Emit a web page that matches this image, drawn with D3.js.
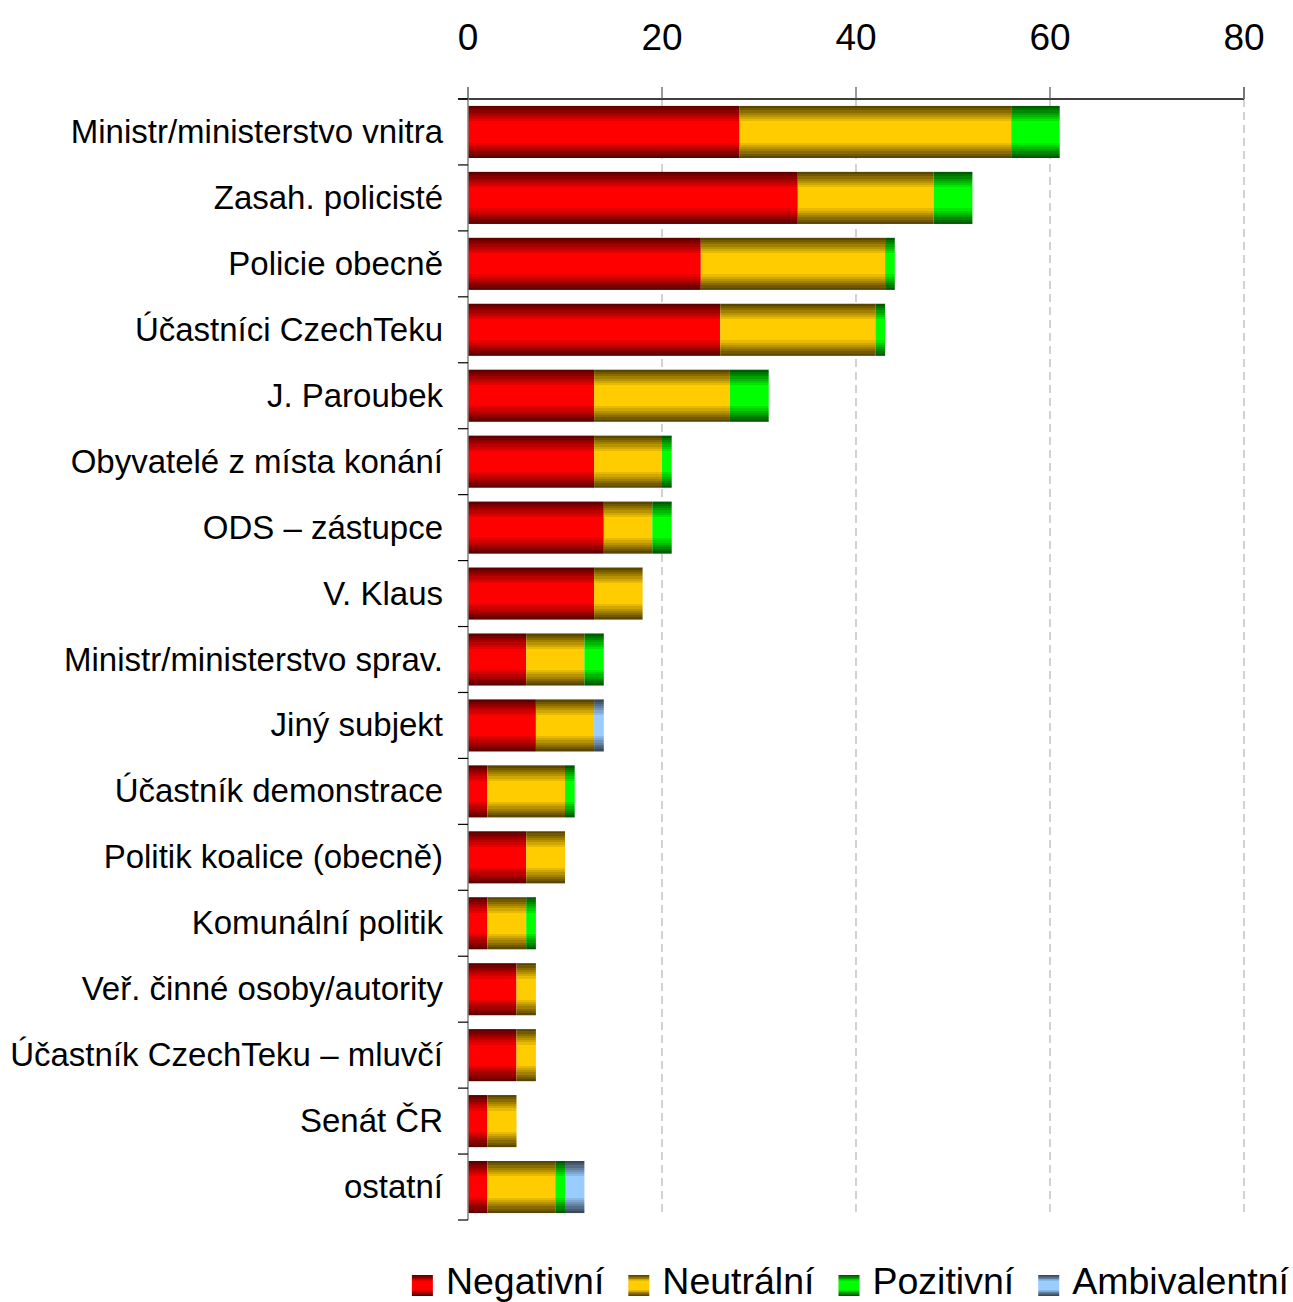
<!DOCTYPE html>
<html>
<head>
<meta charset="utf-8">
<script src="https://cdn.jsdelivr.net/npm/d3@7"></script>
<style>
  html, body { margin: 0; padding: 0; background: #fff; }
  svg { display: block; font-family: "Liberation Sans", Arial, sans-serif; }
</style>
</head>
<body>
<svg id="chart" width="1293" height="1302"></svg>
<script>
const categories = [
  "Ministr/ministerstvo vnitra",
  "Zasah. policisté",
  "Policie obecně",
  "Účastníci CzechTeku",
  "J. Paroubek",
  "Obyvatelé z místa konání",
  "ODS – zástupce",
  "V. Klaus",
  "Ministr/ministerstvo sprav.",
  "Jiný subjekt",
  "Účastník demonstrace",
  "Politik koalice (obecně)",
  "Komunální politik",
  "Veř. činné osoby/autority",
  "Účastník CzechTeku – mluvčí",
  "Senát ČR",
  "ostatní"
];
const seriesNames = ["Negativní", "Neutrální", "Pozitivní", "Ambivalentní"];
const negativni    = [28, 34, 24, 26, 13, 13, 14, 13, 6, 7, 2, 6, 2, 5, 5, 2, 2];
const neutralni    = [28, 14, 19, 16, 14, 7, 5, 5, 6, 6, 8, 4, 4, 2, 2, 3, 7];
const pozitivni    = [5, 4, 1, 1, 4, 1, 2, 0, 2, 0, 1, 0, 1, 0, 0, 0, 1];
const ambivalentni = [0, 0, 0, 0, 0, 0, 0, 0, 0, 1, 0, 0, 0, 0, 0, 0, 2];
const xTicks = [0, 20, 40, 60, 80];

(function () {
const seriesColors = [
  { dark: "#5e0000", bright: "#ff0000" },
  { dark: "#5a4600", bright: "#ffcc00" },
  { dark: "#005a00", bright: "#00ff00" },
  { dark: "#3a4858", bright: "#99ccff" }
];

const svg = d3.select("#chart");
const pLeft = 468, pRight = 1244, pTop = 99, pBottom = 1220;

const x = d3.scaleLinear().domain([0, 80]).range([pLeft, pRight]);
const y = d3.scaleBand().domain(categories).range([pTop, pBottom])
  .paddingInner(0.21).paddingOuter(0.105);

// gradients (stepped, dark edges, bright center)
const defs = svg.append("defs");
seriesColors.forEach((c, i) => {
  const g = defs.append("linearGradient").attr("id", "grad" + i)
    .attr("x1", 0).attr("y1", 0).attr("x2", 0).attr("y2", 1);
  const interp = d3.interpolateRgb(c.dark, c.bright);
  const steps = 8, edge = 0.34;
  const stops = [];
  for (let s = 0; s < steps; s++) {
    const col = interp(s / (steps - 1));
    const a = edge * s / steps, b = edge * (s + 1) / steps;
    stops.push([a, col], [b, col]);
  }
  const mirrored = stops.slice().reverse().map(([o, col]) => [1 - o, col]);
  stops.concat(mirrored).forEach(([o, col]) => {
    g.append("stop").attr("offset", o).attr("stop-color", col);
  });
});

// gridlines
svg.append("g").selectAll("line").data(xTicks.filter(d => d > 0)).join("line")
  .attr("x1", d => x(d)).attr("x2", d => x(d))
  .attr("y1", pTop).attr("y2", pBottom - 4)
  .attr("stroke", "#b4b4b4").attr("stroke-width", 1.2)
  .attr("stroke-dasharray", "8,5");

// stacked bars
const seriesData = [negativni, neutralni, pozitivni, ambivalentni];
const rows = categories.map((c, i) => {
  const o = { cat: c };
  seriesNames.forEach((s, j) => o[s] = seriesData[j][i]);
  return o;
});
const stack = d3.stack().keys(seriesNames)(rows);
stack.forEach((layer, j) => {
  svg.append("g").selectAll("rect").data(layer.filter(d => d[1] > d[0])).join("rect")
    .attr("x", d => x(d[0]))
    .attr("width", d => x(d[1]) - x(d[0]))
    .attr("y", d => y(d.data.cat))
    .attr("height", y.bandwidth())
    .attr("fill", `url(#grad${j})`);
});

// top axis
const xAxis = svg.append("g");
xAxis.append("line").attr("x1", pLeft - 10).attr("x2", pRight).attr("y1", pTop).attr("y2", pTop)
  .attr("stroke", "#000").attr("stroke-width", 1.3);
xAxis.selectAll("line.tick").data(xTicks).join("line").attr("class", "tick")
  .attr("x1", d => x(d)).attr("x2", d => x(d)).attr("y1", pTop).attr("y2", pTop - 12)
  .attr("stroke", d => d === 80 ? "#777" : "#555").attr("stroke-width", d => d === 80 ? 2 : 1.2);
xAxis.selectAll("text").data(xTicks).join("text")
  .attr("x", d => x(d)).attr("y", 50)
  .attr("text-anchor", "middle").attr("font-size", 37).attr("fill", "#000")
  .text(d => d);

// left axis
const yAxis = svg.append("g");
yAxis.append("line").attr("x1", pLeft).attr("x2", pLeft).attr("y1", pTop - 12).attr("y2", pBottom)
  .attr("stroke", "#808080").attr("stroke-width", 1.5);
const step = y.step();
const boundaries = d3.range(categories.length + 1).map(i => pTop + i * step);
yAxis.selectAll("line.tick").data(boundaries).join("line").attr("class", "tick")
  .attr("x1", pLeft - 10).attr("x2", pLeft).attr("y1", d => d).attr("y2", d => d)
  .attr("stroke", "#000").attr("stroke-width", 1.2);
yAxis.selectAll("text").data(categories).join("text")
  .attr("x", pLeft - 25)
  .attr("y", d => y(d) + y.bandwidth() / 2 + 11)
  .attr("text-anchor", "end").attr("font-size", 33).attr("fill", "#000")
  .text(d => d);

// legend
const legend = svg.append("g");
const sq = 21, sqGap = 13, itemGap = 24, legendRight = 1289;
const items = seriesNames.map((s, i) => {
  const t = legend.append("text").attr("y", 1294)
    .attr("font-size", 37.5).attr("fill", "#000").text(s);
  return { t, i, w: t.node().getComputedTextLength() };
});
const total = d3.sum(items, d => sq + sqGap + d.w) + itemGap * (items.length - 1);
let lx = legendRight - total;
items.forEach(d => {
  legend.append("rect").attr("x", lx).attr("y", 1275).attr("width", sq).attr("height", sq)
    .attr("fill", `url(#grad${d.i})`);
  d.t.attr("x", lx + sq + sqGap);
  lx += sq + sqGap + d.w + itemGap;
});
})();
</script>
</body>
</html>
